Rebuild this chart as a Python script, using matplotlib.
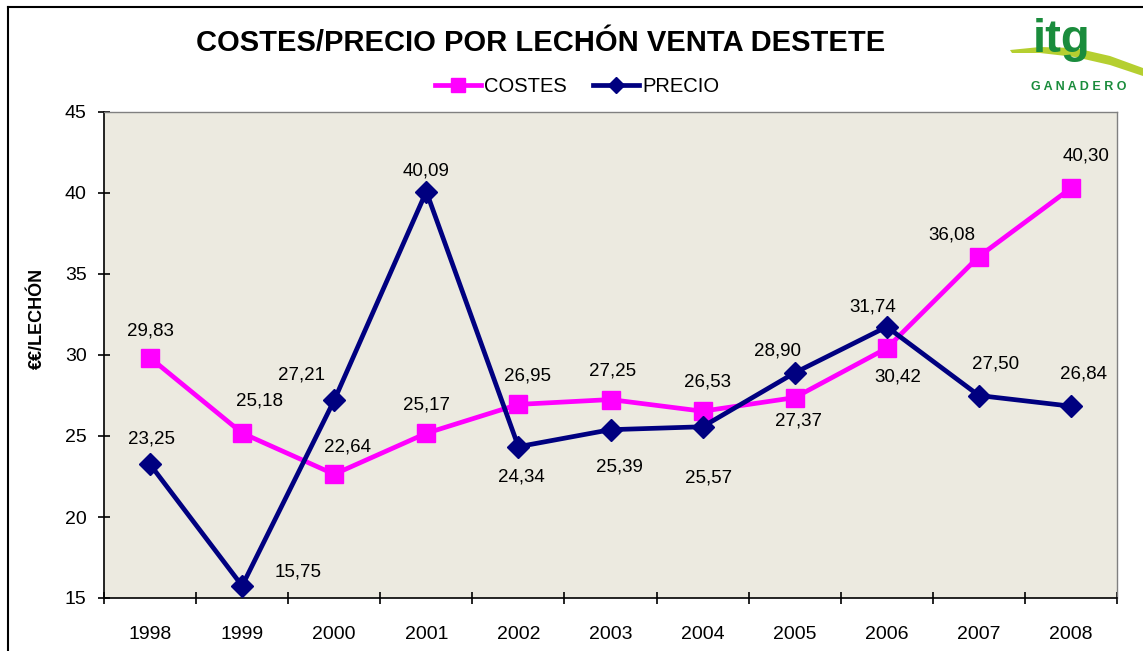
import numpy as np
import matplotlib.pyplot as plt
from matplotlib.patches import Polygon
from matplotlib.lines import Line2D

plt.rcParams['font.family'] = ['Liberation Sans', 'DejaVu Sans']

years = ['1998', '1999', '2000', '2001', '2002', '2003', '2004', '2005', '2006', '2007', '2008']
costes = [29.83, 25.18, 22.64, 25.17, 26.95, 27.25, 26.53, 27.37, 30.42, 36.08, 40.30]
precio = [23.25, 15.75, 27.21, 40.09, 24.34, 25.39, 25.57, 28.90, 31.74, 27.50, 26.84]

# label offsets in pixels (dx, dy up) relative to each point
costes_off = [(0, 27), (17, 32), (13, 27), (0, 28), (9, 28), (2, 29), (5, 29), (4, -23), (11, -29), (-27, 22), (15, 32)]
precio_off = [(1, 25), (56, 14), (-33, 25), (0, 21), (3, -30), (9, -37), (6, -51), (-17, 22), (-14, 20), (17, 31), (13, 32)]

MAGENTA = '#FF00FF'
NAVY = '#000080'

fig = plt.figure(figsize=(11.43, 6.51), dpi=100)
ax = fig.add_axes([104 / 1143, 1 - 598 / 651, 1013 / 1143, 486 / 651])
ax.set_facecolor('#ECEAE0')

x = np.arange(len(years))
ax.plot(x, costes, color=MAGENTA, lw=3.4, marker='s', ms=13.5, label='COSTES', zorder=3)
ax.plot(x, precio, color=NAVY, lw=3.4, marker='D', ms=11.5, label='PRECIO', zorder=4)

def fmt(v):
    return f'{v:.2f}'.replace('.', ',')

for i in range(len(years)):
    ax.annotate(fmt(costes[i]), (x[i], costes[i]), xytext=costes_off[i], textcoords='offset pixels',
                ha='center', va='center', fontsize=13.5)
    ax.annotate(fmt(precio[i]), (x[i], precio[i]), xytext=precio_off[i], textcoords='offset pixels',
                ha='center', va='center', fontsize=13.5)

ax.set_xlim(-0.5, len(years) - 0.5)
ax.set_ylim(15, 45)
ax.set_yticks(range(15, 46, 5))
ax.set_xticks(x)
ax.set_xticklabels(years)
ax.set_xticks(np.arange(-0.5, len(years), 1), minor=True)
ax.tick_params(axis='x', which='major', length=0, pad=20, labelsize=14)
ax.tick_params(axis='x', which='minor', length=9, direction='inout', width=1.2)
ax.tick_params(axis='y', length=9, direction='inout', width=1.2, labelsize=14, pad=8)
for s in ['left', 'bottom']:
    ax.spines[s].set_linewidth(1.2)
for s in ['right', 'top']:
    ax.spines[s].set_color('#808080')
    ax.spines[s].set_linewidth(1)

ax.set_ylabel('€€/LECHÓN', fontsize=13, fontweight='bold')
ax.yaxis.set_label_coords((46 - 104) / 1013, (598 - 318) / 486)

fig.text(541 / 1143, 1 - 43 / 651, 'COSTES/PRECIO POR LECHÓN VENTA DESTETE', ha='center', va='center',
         fontsize=21, fontweight='bold')

leg = ax.legend(loc='center', bbox_to_anchor=(577 / 1143, 1 - 87 / 651), bbox_transform=fig.transFigure,
                ncol=2, frameon=False, fontsize=14.5, handlelength=2.3, columnspacing=1.3,
                handletextpad=0.15, markerscale=0.75)

# figure border
fig.add_artist(Line2D([8 / 1143, 8 / 1143], [0, 1 - 7 / 651], color='black', lw=1.5, transform=fig.transFigure))
fig.add_artist(Line2D([8 / 1143, 1], [1 - 7 / 651, 1 - 7 / 651], color='black', lw=1.5, transform=fig.transFigure))

# logo
swoosh = [(1010, 50), (1040, 47), (1075, 48), (1110, 56), (1143, 68),
          (1143, 76), (1110, 65), (1075, 57), (1040, 53), (1012, 53)]
fig.add_artist(Polygon([(px / 1143, 1 - py / 651) for px, py in swoosh], closed=True,
                       facecolor='#B5CF30', edgecolor='none', transform=fig.transFigure))
fig.text(1062 / 1143, 1 - 40 / 651, 'itg', ha='center', va='center', fontsize=34, fontweight='bold',
         color='#1A8C3C')
fig.text(1079 / 1143, 1 - 87 / 651, 'G A N A D E R O', ha='center', va='center', fontsize=9,
         fontweight='bold', color='#1A8C3C')

fig.savefig('out.png', dpi=100)
